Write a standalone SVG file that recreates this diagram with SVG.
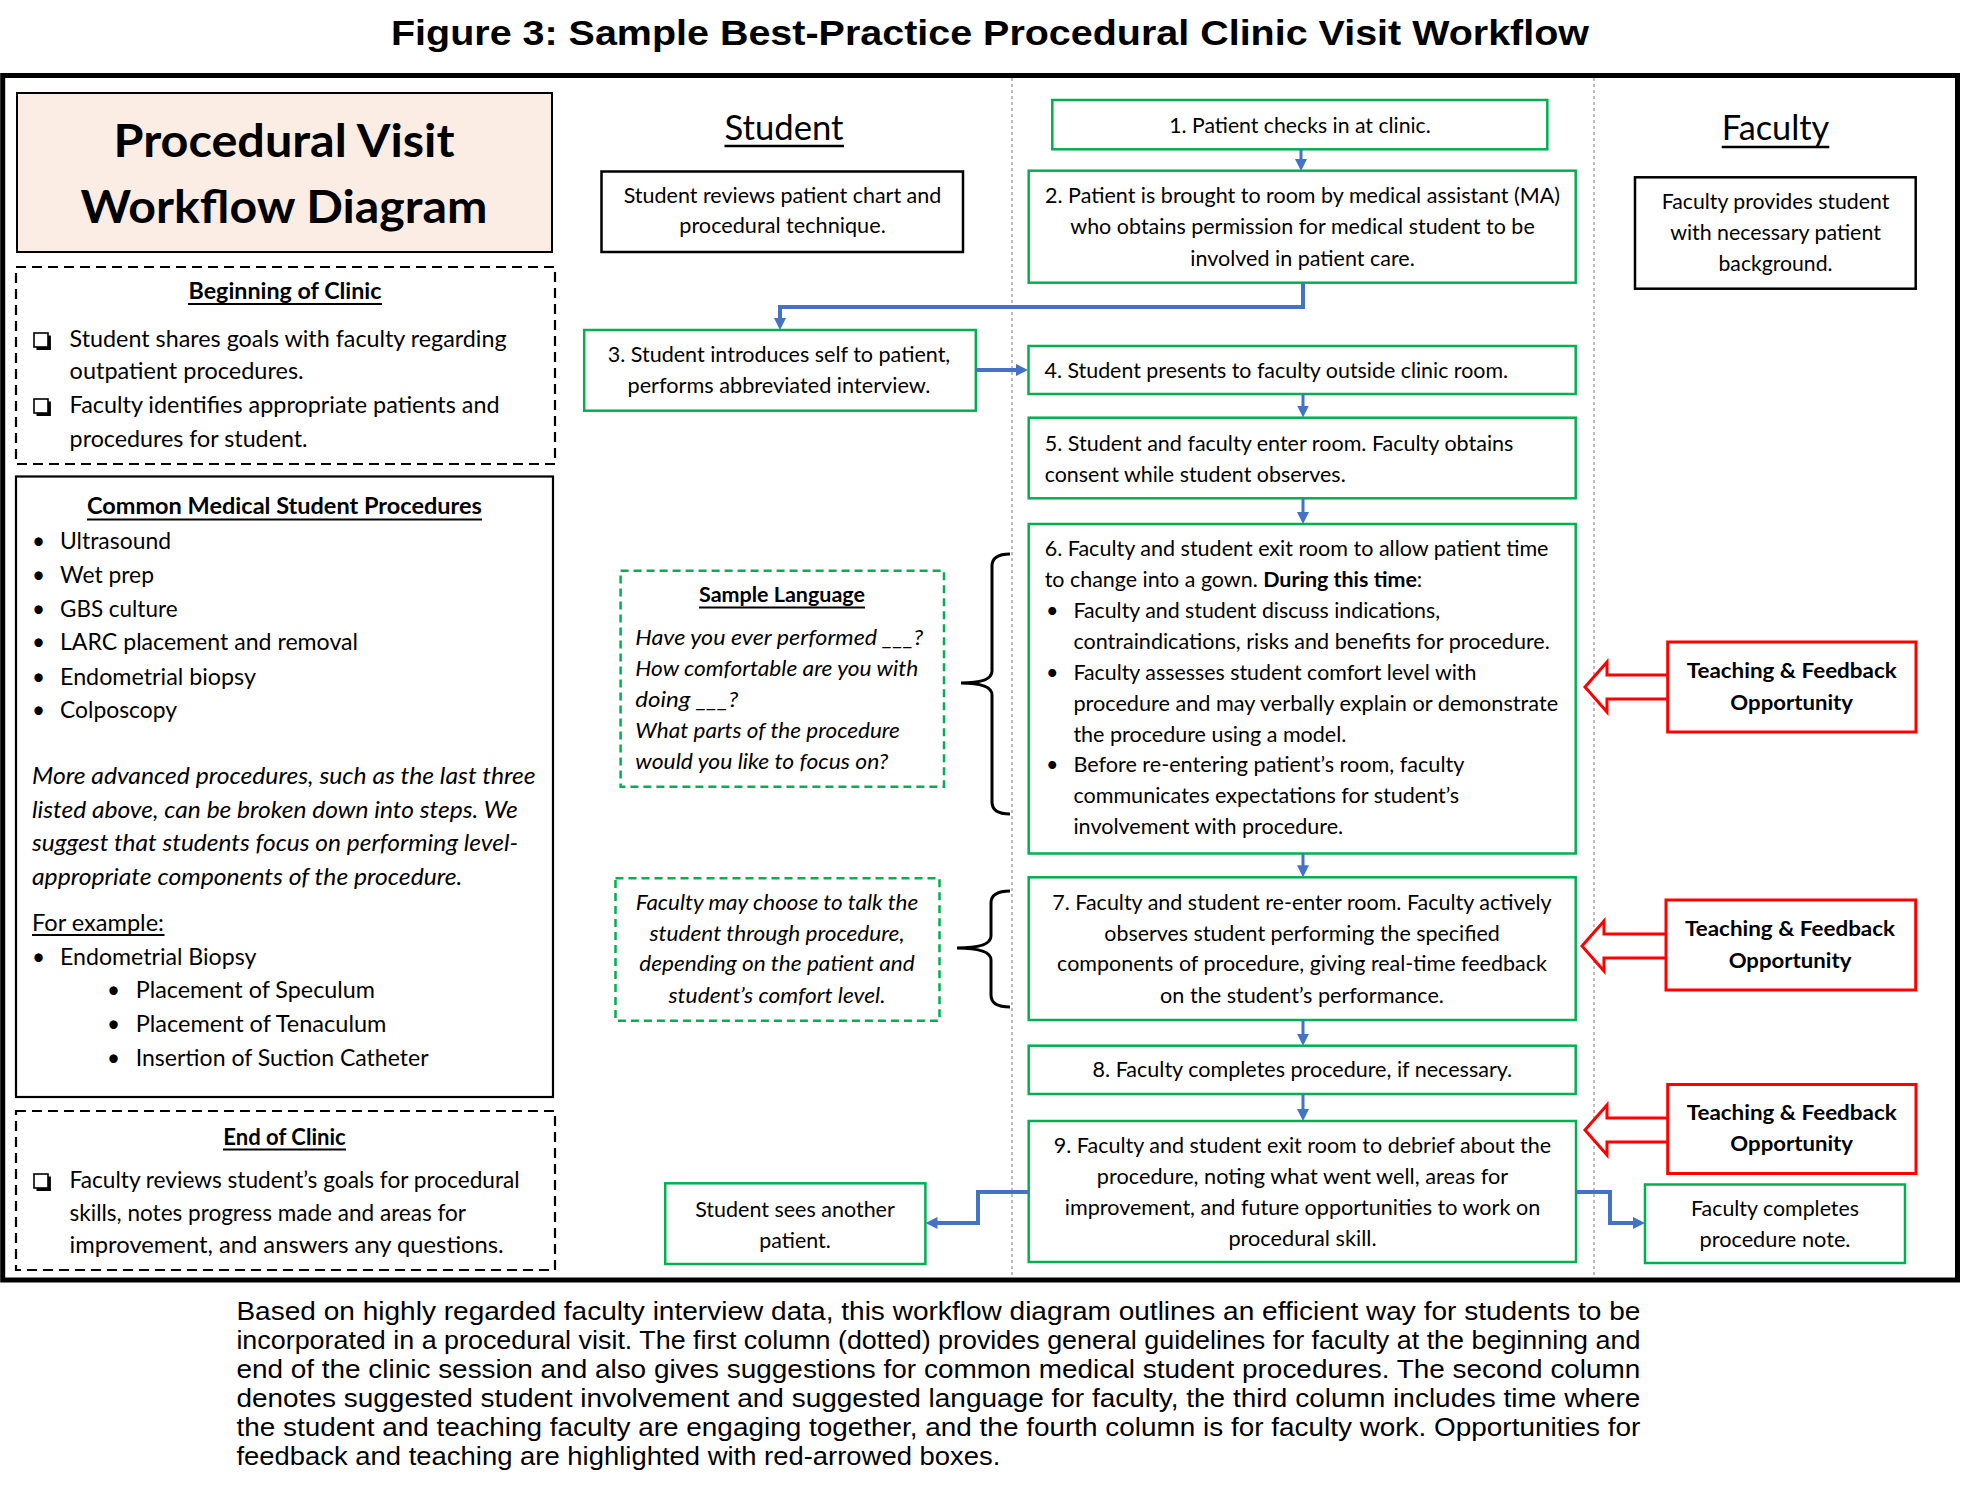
<svg xmlns="http://www.w3.org/2000/svg" width="1961" height="1497" viewBox="0 0 1961 1497">
<style>
text{font-family:Lato,"Noto Sans",sans-serif;font-size:21.5px;fill:#000}
.l{font-size:22.5px}
.b{font-weight:bold}
.i{font-style:italic}
.c{text-anchor:middle}
.g{fill:#fff;stroke:#00B050;stroke-width:2.5}
.gd{fill:#fff;stroke:#00B050;stroke-width:2.5;stroke-dasharray:8 5}
.k{fill:#fff;stroke:#000;stroke-width:2.5}
.kd{fill:#fff;stroke:#000;stroke-width:2.2;stroke-dasharray:10 6}
.r{fill:#fff;stroke:#FF0000;stroke-width:3}
.cn{fill:none;stroke:#4472C4;stroke-width:3;marker-end:url(#ah)}
.cw{fill:none;stroke:#4472C4;stroke-width:4;marker-end:url(#ah)}
.u{stroke:#000;stroke-width:1.8}
.br{fill:none;stroke:#000;stroke-width:3}
.dv{stroke:#999;stroke-width:1.3;stroke-dasharray:3 3}
.cap{font-family:"Liberation Sans",Arial,sans-serif;font-size:26px}
</style>
<defs>
<marker id="ah" markerUnits="userSpaceOnUse" markerWidth="12" markerHeight="12" refX="6" refY="6" orient="auto">
<path d="M0,0 L12,6 L0,12 z" fill="#4472C4"/>
</marker>
<g id="cb"><rect x="0" y="0" width="14" height="14" fill="#fff" stroke="#000" stroke-width="1.6"/><path d="M2.5,15.5 H15.5 V2.5" fill="none" stroke="#000" stroke-width="2.8"/></g>
</defs>
<rect width="1961" height="1497" fill="#fff"/>
<text x="990" y="45" class="c b" style="font-family:'Liberation Sans',Arial,sans-serif;font-size:35px" textLength="1198" lengthAdjust="spacingAndGlyphs">Figure 3: Sample Best-Practice Procedural Clinic Visit Workflow</text>
<rect x="2.7" y="75.5" width="1954.8" height="1204.5" fill="none" stroke="#000" stroke-width="5"/>
<line class="dv" x1="1012" y1="78" x2="1012" y2="1277"/>
<line class="dv" x1="1594" y1="78" x2="1594" y2="1277"/>

<g id="title-box">
<rect x="17" y="93" width="535" height="159" fill="#FBEDE4" stroke="#000" stroke-width="2"/>
<text x="284" y="157" class="c b" style="font-size:46px" textLength="341" lengthAdjust="spacingAndGlyphs">Procedural Visit</text>
<text x="284" y="223" class="c b" style="font-size:46px" textLength="407" lengthAdjust="spacingAndGlyphs">Workflow Diagram</text>
</g>

<g id="beginning-of-clinic">
<rect class="kd" x="16" y="267" width="539" height="197"/>
<text x="285" y="299" class="c b l" textLength="193" lengthAdjust="spacingAndGlyphs">Beginning of Clinic</text>
<line class="u" x1="188" y1="304" x2="382" y2="304"/>
<use href="#cb" x="34" y="333"/>
<text x="69.6" y="347" class="l" textLength="437" lengthAdjust="spacingAndGlyphs">Student shares goals with faculty regarding</text>
<text x="69.6" y="379" class="l" textLength="234" lengthAdjust="spacingAndGlyphs">outpatient procedures.</text>
<use href="#cb" x="34" y="399"/>
<text x="69.6" y="413" class="l" textLength="430" lengthAdjust="spacingAndGlyphs">Faculty identifies appropriate patients and</text>
<text x="69.6" y="447" class="l" textLength="238" lengthAdjust="spacingAndGlyphs">procedures for student.</text>
</g>

<g id="common-procedures">
<rect x="16" y="476.5" width="537" height="620.5" fill="#fff" stroke="#000" stroke-width="2.2"/>
<text x="284.4" y="514" class="c b l" textLength="395" lengthAdjust="spacingAndGlyphs">Common Medical Student Procedures</text>
<line class="u" x1="87" y1="519.5" x2="482" y2="519.5"/>
<text x="32" y="549" class="l">•</text><text x="60" y="549" class="l" textLength="111" lengthAdjust="spacingAndGlyphs">Ultrasound</text>
<text x="32" y="583" class="l">•</text><text x="60" y="583" class="l" textLength="94" lengthAdjust="spacingAndGlyphs">Wet prep</text>
<text x="32" y="617" class="l">•</text><text x="60" y="617" class="l" textLength="117.5" lengthAdjust="spacingAndGlyphs">GBS culture</text>
<text x="32" y="650" class="l">•</text><text x="60" y="650" class="l" textLength="298" lengthAdjust="spacingAndGlyphs">LARC placement and removal</text>
<text x="32" y="684.6" class="l">•</text><text x="60" y="684.6" class="l" textLength="196" lengthAdjust="spacingAndGlyphs">Endometrial biopsy</text>
<text x="32" y="718.4" class="l">•</text><text x="60" y="718.4" class="l" textLength="117" lengthAdjust="spacingAndGlyphs">Colposcopy</text>
<text x="32" y="784" class="l i" textLength="503.6" lengthAdjust="spacingAndGlyphs">More advanced procedures, such as the last three</text>
<text x="32" y="817.5" class="l i" textLength="485.7" lengthAdjust="spacingAndGlyphs">listed above, can be broken down into steps. We</text>
<text x="32" y="851" class="l i" textLength="486" lengthAdjust="spacingAndGlyphs">suggest that students focus on performing level-</text>
<text x="32" y="884.5" class="l i" textLength="430.4" lengthAdjust="spacingAndGlyphs">appropriate components of the procedure.</text>
<text x="32" y="930.5" class="l" textLength="132" lengthAdjust="spacingAndGlyphs">For example:</text>
<line class="u" x1="32" y1="935" x2="164.5" y2="935"/>
<text x="32" y="964.5" class="l">•</text><text x="60" y="964.5" class="l" textLength="196.4" lengthAdjust="spacingAndGlyphs">Endometrial Biopsy</text>
<text x="107" y="998" class="l">•</text><text x="135.7" y="998" class="l" textLength="239.3" lengthAdjust="spacingAndGlyphs">Placement of Speculum</text>
<text x="107" y="1032" class="l">•</text><text x="135.7" y="1032" class="l" textLength="250.7" lengthAdjust="spacingAndGlyphs">Placement of Tenaculum</text>
<text x="107" y="1065.5" class="l">•</text><text x="135.7" y="1065.5" class="l" textLength="292.9" lengthAdjust="spacingAndGlyphs">Insertion of Suction Catheter</text>
</g>

<g id="end-of-clinic">
<rect class="kd" x="16" y="1111" width="539" height="159"/>
<text x="284.5" y="1144.5" class="c b l" textLength="122.5" lengthAdjust="spacingAndGlyphs">End of Clinic</text>
<line class="u" x1="223" y1="1149.5" x2="346" y2="1149.5"/>
<use href="#cb" x="34" y="1174"/>
<text x="69.6" y="1188" class="l" textLength="450" lengthAdjust="spacingAndGlyphs">Faculty reviews student’s goals for procedural</text>
<text x="69.6" y="1220.5" class="l" textLength="396.4" lengthAdjust="spacingAndGlyphs">skills, notes progress made and areas for</text>
<text x="69.6" y="1253" class="l" textLength="434" lengthAdjust="spacingAndGlyphs">improvement, and answers any questions.</text>
</g>

<g id="student-header">
<text x="784" y="140" class="c" style="font-size:34px" textLength="119" lengthAdjust="spacingAndGlyphs">Student</text>
<line x1="724.5" y1="146" x2="844" y2="146" stroke="#000" stroke-width="2.4"/>
</g>
<g id="faculty-header">
<text x="1775.5" y="140" class="c" style="font-size:34px" textLength="107.6" lengthAdjust="spacingAndGlyphs">Faculty</text>
<line x1="1721.7" y1="147" x2="1829.3" y2="147" stroke="#000" stroke-width="2.4"/>
</g>

<g id="student-reviews">
<rect class="k" x="601.5" y="171.5" width="361.5" height="80.5"/>
<text x="782.5" y="203" class="c" textLength="317.6" lengthAdjust="spacingAndGlyphs">Student reviews patient chart and</text>
<text x="782.5" y="233" class="c" textLength="206.5" lengthAdjust="spacingAndGlyphs">procedural technique.</text>
</g>

<g id="faculty-provides">
<rect class="k" x="1635" y="177.3" width="280.7" height="111.4"/>
<text x="1775.5" y="209" class="c" textLength="227.7" lengthAdjust="spacingAndGlyphs">Faculty provides student</text>
<text x="1775.5" y="240" class="c" textLength="210.7" lengthAdjust="spacingAndGlyphs">with necessary patient</text>
<text x="1775.5" y="270.7" class="c" textLength="114" lengthAdjust="spacingAndGlyphs">background.</text>
</g>

<g id="step1">
<rect class="g" x="1052.3" y="100" width="495" height="49.3"/>
<text x="1300" y="132.7" class="c" textLength="261.5" lengthAdjust="spacingAndGlyphs">1. Patient checks in at clinic.</text>
</g>

<g id="step2">
<rect class="g" x="1028.7" y="170.7" width="547" height="112"/>
<text x="1302.5" y="202.7" class="c" textLength="515" lengthAdjust="spacingAndGlyphs">2. Patient is brought to room by medical assistant (MA)</text>
<text x="1302.5" y="234" class="c" textLength="464.5" lengthAdjust="spacingAndGlyphs">who obtains permission for medical student to be</text>
<text x="1302.5" y="265.5" class="c" textLength="224.5" lengthAdjust="spacingAndGlyphs">involved in patient care.</text>
</g>

<g id="step3">
<rect class="g" x="584.2" y="330" width="391.6" height="80.7"/>
<text x="779" y="361.7" class="c" textLength="342.5" lengthAdjust="spacingAndGlyphs">3. Student introduces self to patient,</text>
<text x="779" y="392.7" class="c" textLength="303" lengthAdjust="spacingAndGlyphs">performs abbreviated interview.</text>
</g>

<g id="step4">
<rect class="g" x="1028.5" y="346" width="547.2" height="48"/>
<text x="1044.5" y="377.7" textLength="463.6" lengthAdjust="spacingAndGlyphs">4. Student presents to faculty outside clinic room.</text>
</g>

<g id="step5">
<rect class="g" x="1028.7" y="417.7" width="547" height="80.6"/>
<text x="1044.7" y="451" textLength="468.7" lengthAdjust="spacingAndGlyphs">5. Student and faculty enter room. Faculty obtains</text>
<text x="1044.7" y="481.7" textLength="301" lengthAdjust="spacingAndGlyphs">consent while student observes.</text>
</g>

<g id="step6">
<rect class="g" x="1028.7" y="524" width="547" height="329.5"/>
<text x="1044.7" y="556" textLength="503.8" lengthAdjust="spacingAndGlyphs">6. Faculty and student exit room to allow patient time</text>
<text x="1044.7" y="587" textLength="377.5" lengthAdjust="spacingAndGlyphs">to change into a gown. <tspan class="b">During this time</tspan>:</text>
<text x="1046" y="618">•</text>
<text x="1073.4" y="618" textLength="366.7" lengthAdjust="spacingAndGlyphs">Faculty and student discuss indications,</text>
<text x="1073.4" y="649" textLength="476.4" lengthAdjust="spacingAndGlyphs">contraindications, risks and benefits for procedure.</text>
<text x="1046" y="680">•</text>
<text x="1073.4" y="680" textLength="403" lengthAdjust="spacingAndGlyphs">Faculty assesses student comfort level with</text>
<text x="1073.4" y="711" textLength="484.7" lengthAdjust="spacingAndGlyphs">procedure and may verbally explain or demonstrate</text>
<text x="1073.4" y="742" textLength="273" lengthAdjust="spacingAndGlyphs">the procedure using a model.</text>
<text x="1046" y="772">•</text>
<text x="1073.4" y="772" textLength="391" lengthAdjust="spacingAndGlyphs">Before re-entering patient’s room, faculty</text>
<text x="1073.4" y="803" textLength="385.8" lengthAdjust="spacingAndGlyphs">communicates expectations for student’s</text>
<text x="1073.4" y="834" textLength="269.8" lengthAdjust="spacingAndGlyphs">involvement with procedure.</text>
</g>

<g id="step7">
<rect class="g" x="1028.7" y="877.3" width="547" height="142.7"/>
<text x="1302" y="910" class="c" textLength="499.4" lengthAdjust="spacingAndGlyphs">7. Faculty and student re-enter room. Faculty actively</text>
<text x="1302" y="940.5" class="c" textLength="395.4" lengthAdjust="spacingAndGlyphs">observes student performing the specified</text>
<text x="1302" y="971" class="c" textLength="489.8" lengthAdjust="spacingAndGlyphs">components of procedure, giving real-time feedback</text>
<text x="1302" y="1002.5" class="c" textLength="283.8" lengthAdjust="spacingAndGlyphs">on the student’s performance.</text>
</g>

<g id="step8">
<rect class="g" x="1028.7" y="1045.7" width="547" height="48.3"/>
<text x="1302.4" y="1076.7" class="c" textLength="419.6" lengthAdjust="spacingAndGlyphs">8. Faculty completes procedure, if necessary.</text>
</g>

<g id="step9">
<rect class="g" x="1028.7" y="1121" width="547.3" height="141"/>
<text x="1302.5" y="1152.7" class="c" textLength="497.4" lengthAdjust="spacingAndGlyphs">9. Faculty and student exit room to debrief about the</text>
<text x="1302.5" y="1184" class="c" textLength="411.3" lengthAdjust="spacingAndGlyphs">procedure, noting what went well, areas for</text>
<text x="1302.5" y="1215" class="c" textLength="475.4" lengthAdjust="spacingAndGlyphs">improvement, and future opportunities to work on</text>
<text x="1302.5" y="1246" class="c" textLength="148.2" lengthAdjust="spacingAndGlyphs">procedural skill.</text>
</g>

<g id="sample-language">
<rect class="gd" x="620.6" y="570.7" width="323.4" height="216"/>
<text x="782" y="602" class="c b" textLength="166" lengthAdjust="spacingAndGlyphs">Sample Language</text>
<line class="u" x1="699" y1="607.5" x2="865" y2="607.5"/>
<text x="635.3" y="645" class="i" textLength="288" lengthAdjust="spacingAndGlyphs">Have you ever performed ___?</text>
<text x="635.3" y="676" class="i" textLength="283" lengthAdjust="spacingAndGlyphs">How comfortable are you with</text>
<text x="635.3" y="707" class="i" textLength="103" lengthAdjust="spacingAndGlyphs">doing ___?</text>
<text x="635.3" y="738" class="i" textLength="264.6" lengthAdjust="spacingAndGlyphs">What parts of the procedure</text>
<text x="635.3" y="769" class="i" textLength="253" lengthAdjust="spacingAndGlyphs">would you like to focus on?</text>
</g>

<g id="faculty-may-choose">
<rect class="gd" x="615.5" y="878.3" width="324" height="142.4"/>
<text x="777" y="910" class="c i" textLength="282.5" lengthAdjust="spacingAndGlyphs">Faculty may choose to talk the</text>
<text x="777" y="940.5" class="c i" textLength="255" lengthAdjust="spacingAndGlyphs">student through procedure,</text>
<text x="777" y="971" class="c i" textLength="275.5" lengthAdjust="spacingAndGlyphs">depending on the patient and</text>
<text x="777" y="1002.5" class="c i" textLength="217" lengthAdjust="spacingAndGlyphs">student’s comfort level.</text>
</g>

<g id="student-sees-another">
<rect class="g" x="665.2" y="1183.3" width="260.2" height="80.7"/>
<text x="795" y="1217" class="c" textLength="199.6" lengthAdjust="spacingAndGlyphs">Student sees another</text>
<text x="795" y="1247.5" class="c" textLength="71.4" lengthAdjust="spacingAndGlyphs">patient.</text>
</g>

<g id="faculty-completes-note">
<rect class="g" x="1645" y="1184.5" width="260" height="78.5"/>
<text x="1775" y="1216" class="c" textLength="168" lengthAdjust="spacingAndGlyphs">Faculty completes</text>
<text x="1775" y="1247" class="c" textLength="151" lengthAdjust="spacingAndGlyphs">procedure note.</text>
</g>

<g id="feedback1">
<path class="r" d="M1668,675 H1607 V662 L1585,687 L1607,712 V699 H1668"/>
<rect class="r" x="1667.7" y="642" width="248.3" height="90"/>
<text x="1791.7" y="678" class="c b" textLength="210" lengthAdjust="spacingAndGlyphs">Teaching &amp; Feedback</text>
<text x="1791.7" y="710" class="c b" textLength="122.7" lengthAdjust="spacingAndGlyphs">Opportunity</text>
</g>
<g id="feedback2">
<path class="r" d="M1666,934 H1604 V921 L1582,946 L1604,971 V958 H1666"/>
<rect class="r" x="1666" y="900" width="249.7" height="90"/>
<text x="1790" y="936" class="c b" textLength="210" lengthAdjust="spacingAndGlyphs">Teaching &amp; Feedback</text>
<text x="1790" y="968" class="c b" textLength="122.7" lengthAdjust="spacingAndGlyphs">Opportunity</text>
</g>
<g id="feedback3">
<path class="r" d="M1668,1118 H1607 V1105 L1585,1130 L1607,1155 V1142 H1668"/>
<rect class="r" x="1667.7" y="1084.5" width="248.3" height="89"/>
<text x="1791.7" y="1120" class="c b" textLength="210" lengthAdjust="spacingAndGlyphs">Teaching &amp; Feedback</text>
<text x="1791.7" y="1151" class="c b" textLength="122.7" lengthAdjust="spacingAndGlyphs">Opportunity</text>
</g>

<g id="brackets">
<path class="br" d="M1010,554 Q992,554 992,566 L992,671 Q992,683 961,683 Q992,683 992,695 L992,802 Q992,814 1010,814"/>
<path class="br" d="M1010,891 Q991,891 991,903 L991,936 Q991,948 957,948 Q991,948 991,960 L991,995 Q991,1007 1010,1007"/>
</g>

<g id="connectors">
<path class="cn" d="M1301,149.3 V165"/>
<path class="cw" d="M1303,282.7 V307 H780 V324"/>
<path class="cw" d="M975.8,370 H1022"/>
<path class="cn" d="M1303,394 V411.5"/>
<path class="cn" d="M1303,498.3 V518"/>
<path class="cn" d="M1303,853.5 V871.3"/>
<path class="cn" d="M1303,1020 V1039.7"/>
<path class="cn" d="M1303,1094 V1115"/>
<path class="cw" d="M1028.7,1192 H978 V1223 H931.5"/>
<path class="cw" d="M1576,1192 H1610 V1223 H1639"/>
</g>

<g id="caption">
<text class="cap" x="236.4" y="1320" textLength="1404" lengthAdjust="spacingAndGlyphs">Based on highly regarded faculty interview data, this workflow diagram outlines an efficient way for students to be</text>
<text class="cap" x="236.4" y="1349" textLength="1404" lengthAdjust="spacingAndGlyphs">incorporated in a procedural visit. The first column (dotted) provides general guidelines for faculty at the beginning and</text>
<text class="cap" x="236.4" y="1378" textLength="1404" lengthAdjust="spacingAndGlyphs">end of the clinic session and also gives suggestions for common medical student procedures. The second column</text>
<text class="cap" x="236.4" y="1407" textLength="1404" lengthAdjust="spacingAndGlyphs">denotes suggested student involvement and suggested language for faculty, the third column includes time where</text>
<text class="cap" x="236.4" y="1436" textLength="1404" lengthAdjust="spacingAndGlyphs">the student and teaching faculty are engaging together, and the fourth column is for faculty work. Opportunities for</text>
<text class="cap" x="236.4" y="1465" textLength="764" lengthAdjust="spacingAndGlyphs">feedback and teaching are highlighted with red-arrowed boxes.</text>
</g>
</svg>
